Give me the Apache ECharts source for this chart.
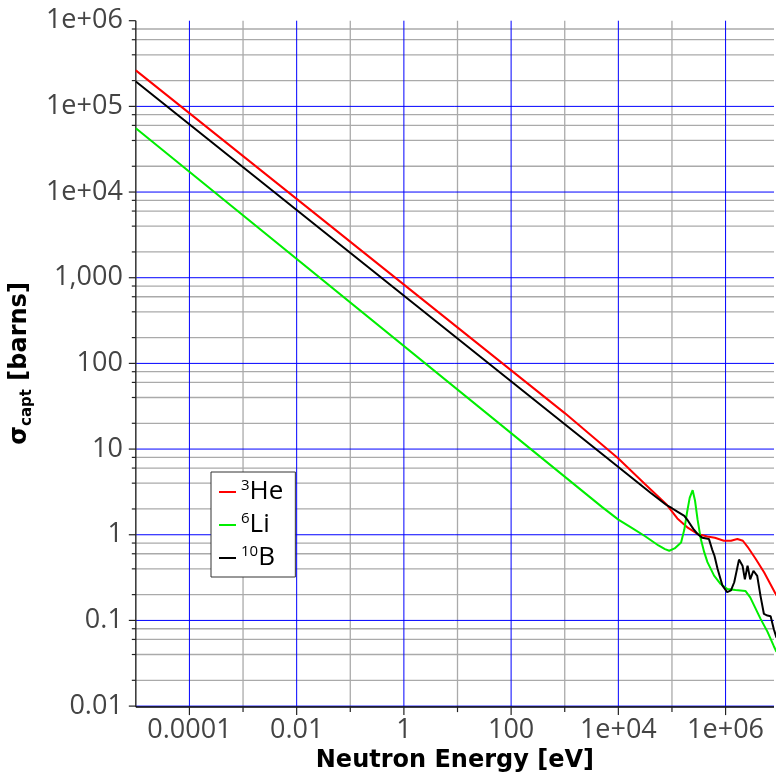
<!DOCTYPE html>
<html>
<head>
<meta charset="utf-8">
<title>Neutron capture cross sections</title>
<script src="https://cdn.jsdelivr.net/npm/echarts@6/dist/echarts.min.js"></script>
<style>
  html, body { margin: 0; padding: 0; background: #ffffff; }
  #chart { width: 777px; height: 778px; }
</style>
</head>
<body>
<div id="chart"></div>
<script>
// Axis ranges (eV and barns)
const X_MIN = 1e-5, X_MAX = 8e6;
const Y_MIN = 0.01, Y_MAX = 1e6;

// Tick labels, indexed by decade exponent
const xLabelExponents = [-4, -2, 0, 2, 4, 6];
const xLabels = ['0.0001', '0.01', '1', '100', '1e+04', '1e+06'];
const yLabelExponents = [-2, -1, 0, 1, 2, 3, 4, 5, 6];
const yLabels = ['0.01', '0.1', '1', '10', '100', '1,000', '1e+04', '1e+05', '1e+06'];

// Grid and tick positions
const xMajorGrid = [1e-4, 1e-2, 1, 1e2, 1e4, 1e6];
const xMinorGrid = [1e-3, 1e-1, 1e1, 1e3, 1e5];
const yMajorGrid = [0.01, 0.1, 1, 10, 100, 1e3, 1e4, 1e5];
const yMajorTicks = [0.01, 0.1, 1, 10, 100, 1e3, 1e4, 1e5, 1e6];
const yMinorGrid = [
  0.02, 0.04, 0.06, 0.08,
  0.2, 0.4, 0.6, 0.8,
  2, 4, 6, 8,
  20, 40, 60, 80,
  200, 400, 600, 800,
  2e3, 4e3, 6e3, 8e3,
  2e4, 4e4, 6e4, 8e4,
  2e5, 4e5, 6e5, 8e5
];

// Isotopes
const isotopeNames = ['3He', '6Li', '10B'];
const massNumbers = ['3', '6', '10'];
const elements = ['He', 'Li', 'B'];
const isotopeColors = ['#ff0000', '#00ee00', '#000000'];

// Capture cross sections: energy [eV] and sigma [barns]
const he3Energy = [1e-5, 1e3, 1e4, 3.16e4, 7.76e4, 1.26e5, 2.0e5, 3.0e5, 4.57e5, 6.3e5,
  9.3e5, 1.26e6, 1.66e6, 2.1e6, 2.57e6, 3.63e6, 5.25e6, 7.94e6, 8.9e6];
const he3Sigma = [2.63e5, 26.3, 7.76, 3.89, 2.29, 1.55, 1.20, 1.02, 0.955, 0.923,
  0.851, 0.851, 0.891, 0.851, 0.724, 0.525, 0.363, 0.224, 0.195];

const li6Energy = [1e-5, 5e3, 1e4, 1.78e4, 3.16e4, 5.6e4, 7.4e4, 8.9e4, 1.12e5, 1.48e5, 1.7e5,
  1.91e5, 2.14e5, 2.43e5, 2.69e5, 3.0e5, 3.45e5, 3.98e5, 4.59e5, 6.1e5, 8.1e5,
  1.08e6, 1.53e6, 2.34e6, 2.88e6, 4.47e6, 6.03e6, 7.94e6, 8.9e6];
const li6Sigma = [5.56e4, 2.1, 1.5, 1.2, 0.96, 0.75, 0.68, 0.65, 0.692, 0.813, 1.15,
  1.82, 2.69, 3.31, 2.51, 1.51, 0.891, 0.631, 0.479, 0.333, 0.266,
  0.233, 0.226, 0.221, 0.186, 0.105, 0.074, 0.050, 0.043];

const b10Energy = [1e-5, 1e4, 3.98e4, 7.76e4, 1e5, 1.26e5, 1.7e5, 2.0e5, 2.5e5, 3.0e5,
  3.7e5, 4.9e5, 5.6e5, 6.2e5, 7.1e5, 8.7e5, 1.07e6, 1.26e6, 1.45e6, 1.78e6,
  2.07e6, 2.29e6, 2.57e6, 2.88e6, 3.31e6, 3.89e6, 4.47e6, 5.19e6, 6.03e6, 6.92e6,
  7.94e6, 8.9e6];
const b10Sigma = [1.95e5, 6.17, 3.09, 2.24, 2.04, 1.86, 1.66, 1.45, 1.17, 1.02,
  0.92, 0.89, 0.676, 0.569, 0.398, 0.257, 0.214, 0.224, 0.279, 0.513,
  0.436, 0.302, 0.436, 0.302, 0.380, 0.331, 0.195, 0.119, 0.114, 0.112,
  0.079, 0.063];

const energies = [he3Energy, li6Energy, b10Energy];
const sigmas = [he3Sigma, li6Sigma, b10Sigma];

const GRID_GREY = '#aaaaaa';
const GRID_BLUE = '#0000ff';
const TICK_COLOR = '#222222';
const LABEL_FONT = 'Open Sans';
const TITLE_FONT = 'DejaVu Sans';

// Horizontal grid lines across the plot area
function hGrid(values, color, width) {
  return {
    type: 'custom', silent: true, z: 1, clip: false,
    data: values.map(v => [X_MIN, v]),
    renderItem(params, api) {
      const cs = params.coordSys;
      const y = api.coord([api.value(0), api.value(1)])[1];
      return { type: 'line', shape: { x1: cs.x, y1: y, x2: cs.x + cs.width, y2: y },
        style: { stroke: color, lineWidth: width } };
    }
  };
}
// Vertical grid lines across the plot area
function vGrid(values, color, width) {
  return {
    type: 'custom', silent: true, z: 1, clip: false,
    data: values.map(v => [v, Y_MIN]),
    renderItem(params, api) {
      const cs = params.coordSys;
      const x = api.coord([api.value(0), api.value(1)])[0];
      return { type: 'line', shape: { x1: x, y1: cs.y, x2: x, y2: cs.y + cs.height },
        style: { stroke: color, lineWidth: width } };
    }
  };
}
// Short ticks outside the left axis
function yTicks(values, len) {
  return {
    type: 'custom', silent: true, z: 3, clip: false,
    data: values.map(v => [X_MIN, v]),
    renderItem(params, api) {
      const cs = params.coordSys;
      const y = api.coord([api.value(0), api.value(1)])[1];
      return { type: 'line', shape: { x1: cs.x - len, y1: y, x2: cs.x, y2: y },
        style: { stroke: TICK_COLOR, lineWidth: 1.2 } };
    }
  };
}
// Short ticks below the bottom axis
function xTicks(values, len) {
  return {
    type: 'custom', silent: true, z: 3, clip: false,
    data: values.map(v => [v, Y_MIN]),
    renderItem(params, api) {
      const cs = params.coordSys;
      const x = api.coord([api.value(0), api.value(1)])[0];
      const y0 = cs.y + cs.height;
      return { type: 'line', shape: { x1: x, y1: y0, x2: x, y2: y0 + len },
        style: { stroke: TICK_COLOR, lineWidth: 1.2 } };
    }
  };
}
// Left and bottom frame lines of the plot area
const frameSeries = {
  type: 'custom', silent: true, z: 3, clip: false,
  data: [[X_MIN, Y_MIN]],
  renderItem(params, api) {
    const cs = params.coordSys;
    const b = cs.y + cs.height + 1;
    return { type: 'group', children: [
      { type: 'line', shape: { x1: cs.x, y1: cs.y, x2: cs.x, y2: b }, style: { stroke: '#333333', lineWidth: 1.5 } },
      { type: 'line', shape: { x1: cs.x, y1: b, x2: cs.x + cs.width, y2: b }, style: { stroke: '#000000', lineWidth: 1.5 } }
    ] };
  }
};

const curveSeries = isotopeNames.map((name, i) => ({
  type: 'line',
  name: name,
  data: energies[i].map((e, k) => [e, sigmas[i][k]]),
  showSymbol: false,
  symbol: 'none',
  smooth: false,
  z: 5,
  lineStyle: { color: isotopeColors[i], width: 2 },
  itemStyle: { color: isotopeColors[i] }
}));

const chart = echarts.init(document.getElementById('chart'), null, { renderer: 'canvas' });
chart.setOption({
  animation: false,
  backgroundColor: '#ffffff',
  grid: { left: 133, top: 20.7, right: 0, bottom: 70.7 },
  xAxis: {
    type: 'log', logBase: 10, min: X_MIN, max: X_MAX, interval: 1,
    axisLine: { show: false },
    axisTick: { show: false },
    splitLine: { show: false },
    axisLabel: {
      margin: 11, color: '#444444', fontFamily: LABEL_FONT, fontSize: 27,
      formatter: v => {
        const i = xLabelExponents.indexOf(Math.round(Math.log10(v)));
        return i < 0 ? '' : xLabels[i];
      }
    },
    name: 'Neutron Energy [eV]',
    nameLocation: 'middle', nameGap: 42,
    nameTextStyle: { color: '#000000', fontFamily: TITLE_FONT, fontWeight: 'bold', fontSize: 24 }
  },
  yAxis: {
    type: 'log', logBase: 10, min: Y_MIN, max: Y_MAX, interval: 1,
    axisLine: { show: false },
    axisTick: { show: false },
    splitLine: { show: false },
    axisLabel: {
      margin: 13, color: '#444444', fontFamily: LABEL_FONT, fontSize: 27,
      formatter: v => {
        const i = yLabelExponents.indexOf(Math.round(Math.log10(v)));
        return i < 0 ? '' : yLabels[i];
      }
    },
    name: '{b|σ}{sub|capt}{b| [barns]}',
    nameLocation: 'middle', nameGap: 70, nameRotate: 90,
    nameTextStyle: {
      color: '#000000', fontFamily: TITLE_FONT, fontWeight: 'bold',
      rich: {
        b: { fontFamily: TITLE_FONT, fontWeight: 'bold', fontSize: 24, color: '#000000', lineHeight: 30 },
        sub: { fontFamily: TITLE_FONT, fontWeight: 'bold', fontSize: 15, color: '#000000', verticalAlign: 'bottom', lineHeight: 30 }
      }
    }
  },
  legend: {
    data: isotopeNames,
    orient: 'vertical',
    left: 211, top: 472,
    padding: [6, 12, 6, 8],
    itemGap: 6,
    itemWidth: 17, itemHeight: 2,
    icon: 'rect',
    backgroundColor: '#ffffff',
    borderColor: '#333333', borderWidth: 1, borderRadius: 0,
    formatter: name => {
      const i = isotopeNames.indexOf(name);
      return '{m|' + massNumbers[i] + '}{e|' + elements[i] + '}';
    },
    textStyle: {
      color: '#000000', fontFamily: LABEL_FONT,
      rich: {
        m: { fontFamily: LABEL_FONT, fontSize: 15, color: '#000000', verticalAlign: 'top', lineHeight: 28 },
        e: { fontFamily: LABEL_FONT, fontSize: 26, color: '#000000', lineHeight: 28 }
      }
    }
  },
  series: [
    hGrid(yMinorGrid, GRID_GREY, 1.3),
    vGrid(xMinorGrid, GRID_GREY, 1.3),
    hGrid(yMajorGrid, GRID_BLUE, 1),
    vGrid(xMajorGrid, GRID_BLUE, 1),
    frameSeries,
    yTicks(yMajorTicks, 7),
    yTicks(yMinorGrid, 4),
    xTicks(xMajorGrid, 9),
    xTicks(xMinorGrid, 6)
  ].concat(curveSeries)
});
</script>
</body>
</html>
